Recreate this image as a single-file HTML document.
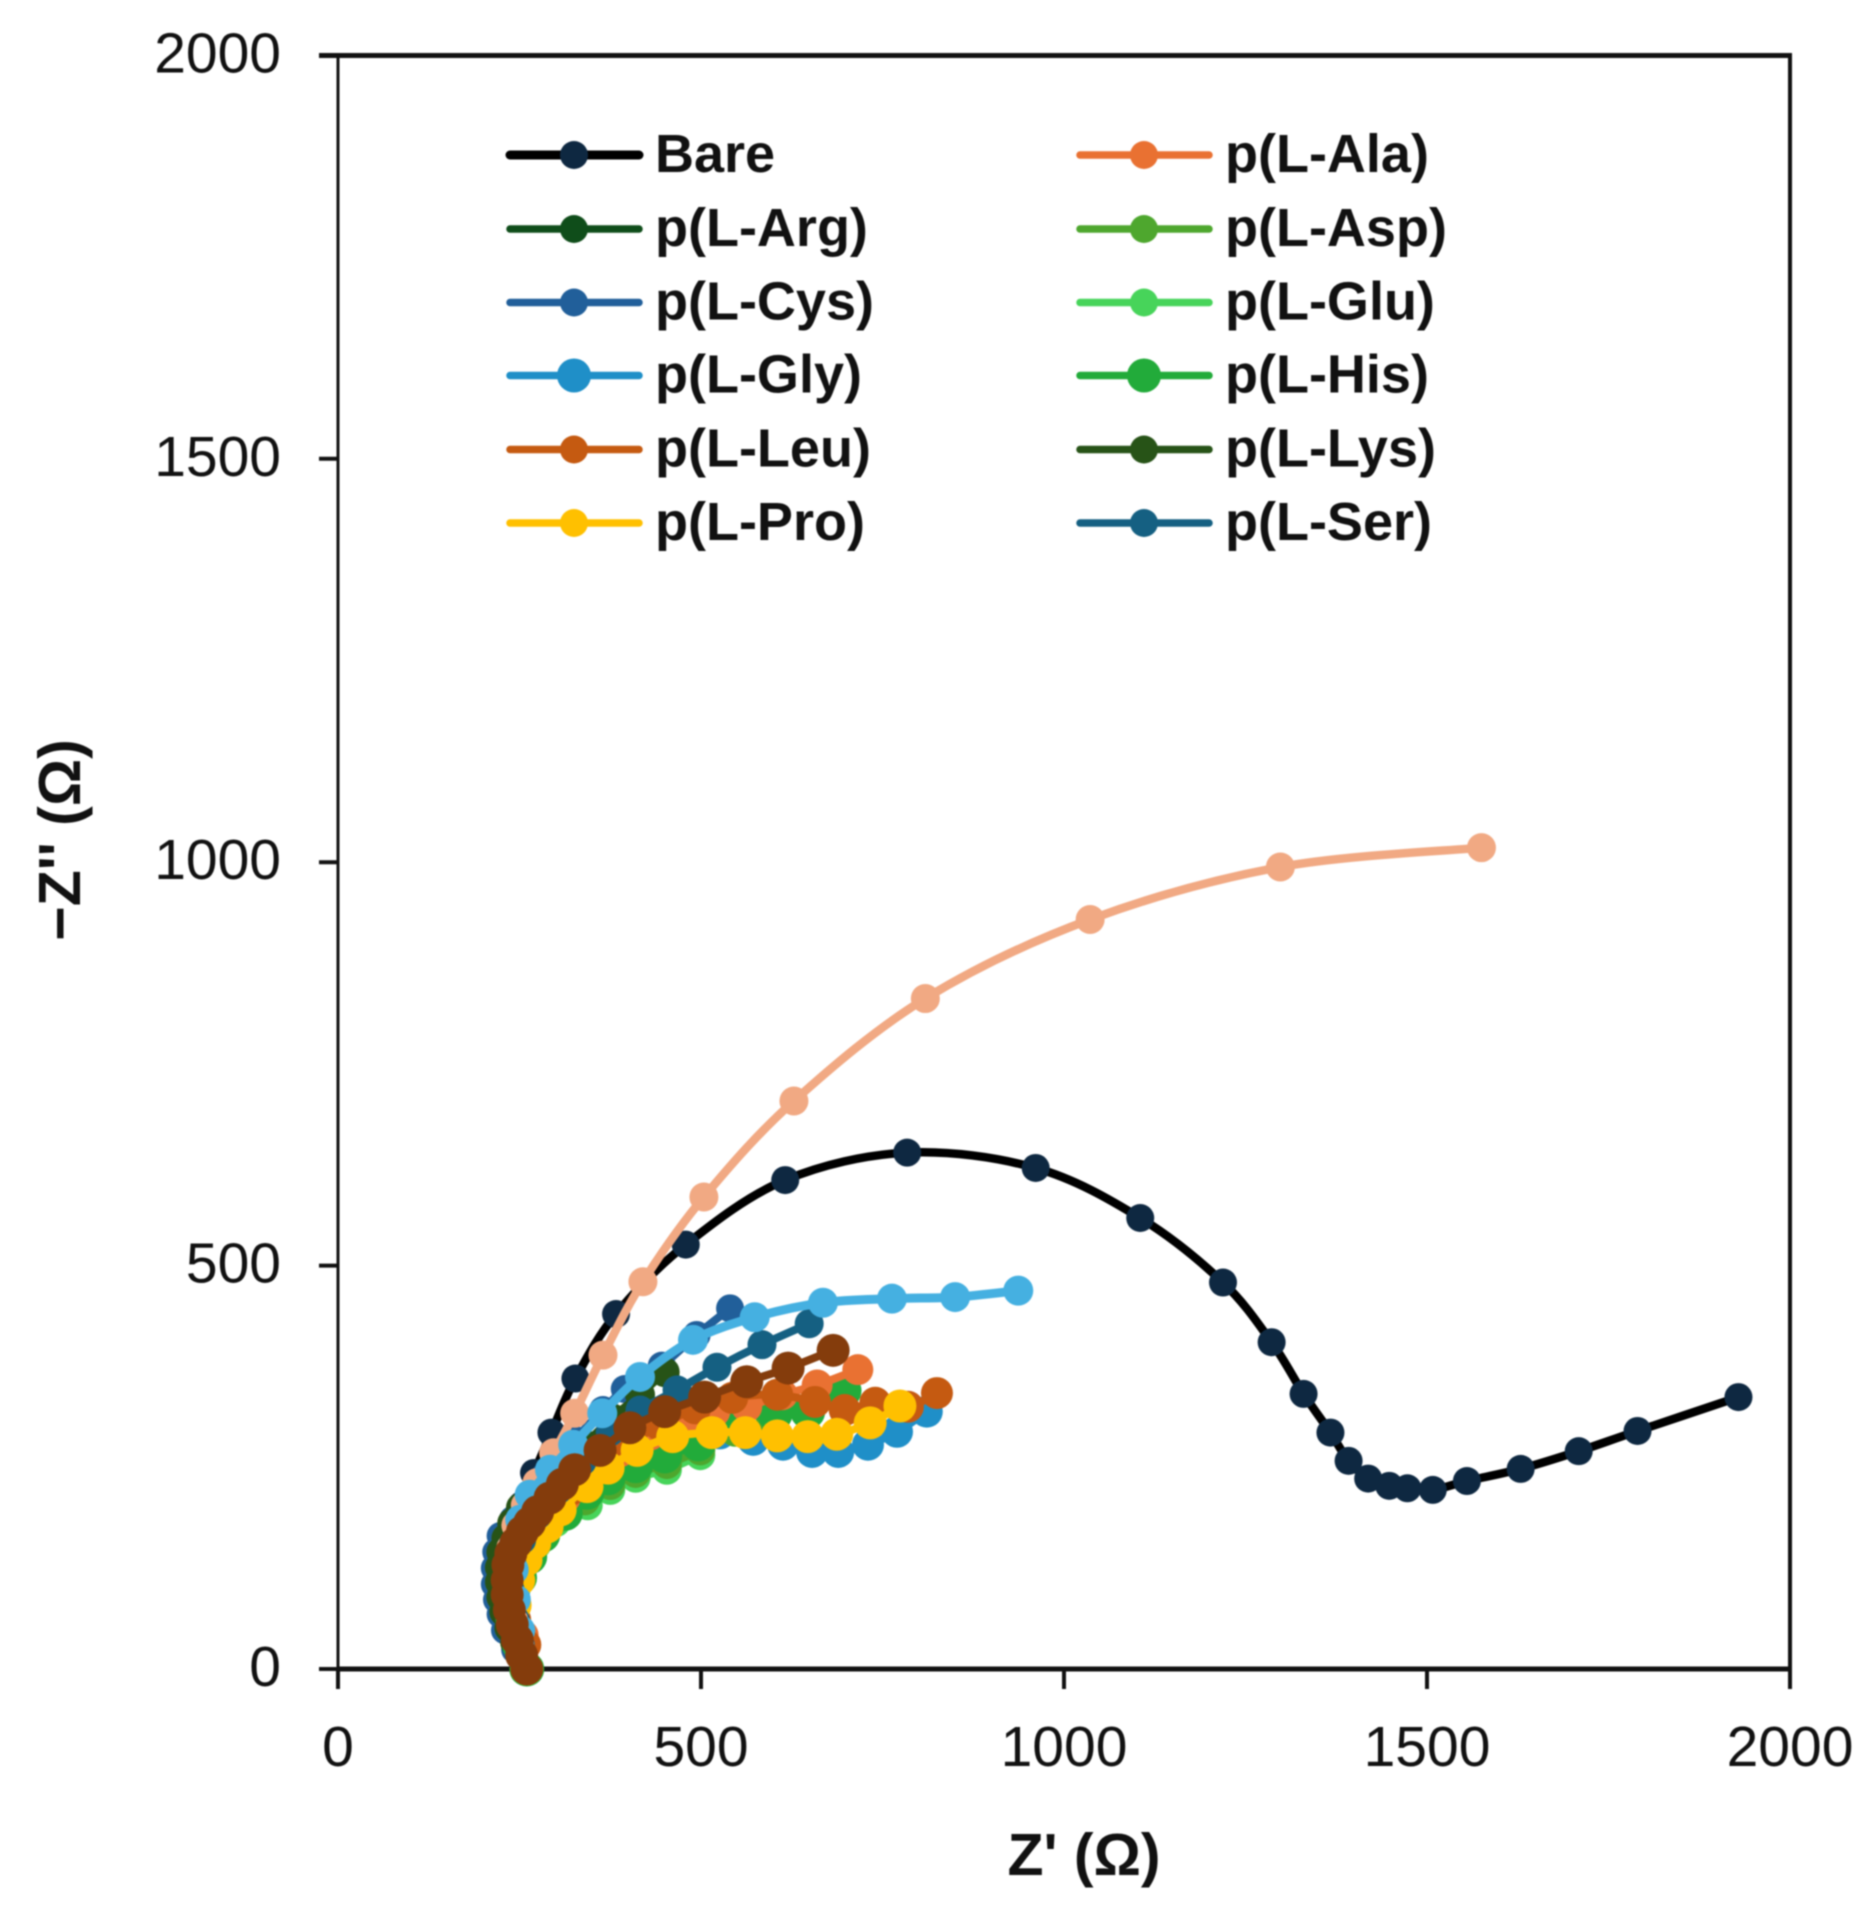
<!DOCTYPE html>
<html lang="en">
<head>
<meta charset="utf-8">
<title>Nyquist plot</title>
<style>
html,body{margin:0;padding:0;background:#fff;width:1872px;height:1912px;overflow:hidden}
svg{display:block;filter:blur(.7px)}
text{font-family:"Liberation Sans",sans-serif;fill:#111}
.tick{font-size:57px}
.leg{font-size:54px;font-weight:bold}
.title{font-size:59px;font-weight:bold}
</style>
</head>
<body>
<svg id="chart" width="1872" height="1912" viewBox="0 0 1872 1912" xmlns="http://www.w3.org/2000/svg">
  <g id="axes">
    <line x1="319" x2="1792" y1="55.5" y2="55.5" stroke="#111" stroke-width="5"/>
    <line x1="338" x2="338" y1="55" y2="1669" stroke="#111" stroke-width="3"/>
    <line x1="338" x2="1792" y1="1669" y2="1669" stroke="#111" stroke-width="5"/>
    <line x1="1790" x2="1790" y1="55" y2="1669" stroke="#111" stroke-width="4"/>
  </g>
  <g id="marks"></g>
  <g id="legend"></g>
  <text class="title" x="1084" y="1875" text-anchor="middle">Z' (Ω)</text>
  <text class="title" transform="translate(80,840) rotate(-90)" text-anchor="middle">−Z'' (Ω)</text>
</svg>
<script>
const xTickLabels = [0, 500, 1000, 1500, 2000];
const yTickLabels = [0, 500, 1000, 1500, 2000];

const bareZre = [260,248,236,230,230,240,253,270,294,327,383,479,616,784,961,1105,1219,1286,1330,1367,1392,1419,1448,1473,1508,1555,1629,1709,1790,1929];
const bareZim = [0,30,61,98,135,172,203,243,293,360,440,526,606,640,621,559,479,405,341,293,258,236,227,224,222,233,248,270,295,337];
const cysZre = [260,244,230,224,219,216,216,218,224,241,255,270,284,300,326,365,395,446,494,540];
const cysZim = [0,24,48,68,86,105,125,145,165,185,203,222,238,253,284,321,347,376,414,447];
const argZre = [260,244,233,227,233,251,278,313,347,388,432];
const argZim = [0,36,73,110,147,178,203,228,253,278,296];
const lysZre = [260,252,244,236,229,225,223,223,225,232,240,252,264,277,290,306,340,377,416,450];
const lysZim = [0,17,33,51,71,89,108,126,145,162,181,200,212,222,235,247,278,311,340,368];
const glyZre = [260,248,241,243,250,269,297,340,372,405,444,485,526,572,613,653,689,730,770,811];
const glyZim = [0,36,67,98,129,160,187,213,240,265,284,290,292,284,278,269,269,278,294,319];
const gluZre = [260,248,243,244,254,273,300,344,375,410,453,499];
const gluZim = [0,30,67,98,125,154,182,203,222,237,247,265];
const aspZre = [260,248,240,244,256,272,298,340,375,410,453,499,547,595];
const aspZim = [0,36,73,104,133,160,185,209,228,243,254,271,294,302];
const hisZre = [260,250,241,240,250,264,282,313,343,372,410,450,496,545,602,647,697];
const hisZim = [0,30,61,86,113,139,166,193,219,237,252,264,279,309,316,319,345];
const alaZre = [260,255,240,243,255,275,313,347,388,430,478,519,563,612,660,716];
const alaZim = [0,42,86,123,154,185,212,240,269,290,306,319,325,340,352,371];
const leuZre = [260,258,244,238,243,255,278,320,354,395,444,492,543,605,657,698,740,785,825];
const leuZim = [0,30,61,98,129,160,191,222,253,278,302,323,336,340,331,321,330,325,342];
const proZre = [260,248,244,249,259,271,288,306,343,372,412,461,515,561,605,647,687,733,774];
const proZim = [0,48,79,110,135,156,176,197,226,249,271,288,293,293,289,288,291,305,326];
const serZre = [260,251,244,237,240,253,275,303,336,375,416,467,522,584,649];
const serZim = [0,30,61,98,129,160,191,222,257,294,321,346,374,402,428];
const peachZre = [260,250,242,238,236,238,245,258,274,297,326,365,420,504,628,809,1036,1298,1575];
const peachZim = [0,30,60,90,120,150,178,203,231,268,317,389,480,585,704,831,929,994,1018];
const skyZre = [260,251,245,242,242,251,264,292,324,364,416,489,574,668,763,850,937];
const skyZim = [0,48,86,123,154,185,216,247,278,317,362,408,436,454,459,461,469];
const umberZre = [260,253,247,240,236,233,233,234,238,245,254,264,275,292,309,326,361,402,450,505,563,620,682];
const umberZim = [0,17,36,55,73,92,110,129,143,156,170,181,195,212,229,247,271,299,319,337,356,373,395];

const xScale = v => 338 + v * 0.726;
const yScale = v => 1669 - v * 0.8068;

const SVGNS = 'http://www.w3.org/2000/svg';
function make(tag, attrs, parent) {
  const el = document.createElementNS(SVGNS, tag);
  for (const k in attrs) el.setAttribute(k, attrs[k]);
  parent.appendChild(el);
  return el;
}
function smoothPath(xs, ys) {
  const p = xs.map((x, i) => [xScale(x), yScale(ys[i])]);
  let d = 'M' + p[0][0].toFixed(1) + ' ' + p[0][1].toFixed(1);
  for (let i = 0; i < p.length - 1; i++) {
    const a = p[Math.max(i - 1, 0)], b = p[i], c = p[i + 1], e = p[Math.min(i + 2, p.length - 1)];
    const c1x = b[0] + (c[0] - a[0]) / 6, c1y = b[1] + (c[1] - a[1]) / 6;
    const c2x = c[0] - (e[0] - b[0]) / 6, c2y = c[1] - (e[1] - b[1]) / 6;
    d += ' C' + [c1x, c1y, c2x, c2y, c[0], c[1]].map(n => n.toFixed(1)).join(' ');
  }
  return d;
}

const axes = document.getElementById('axes');
xTickLabels.forEach(v => {
  const t = make('line', {x1: xScale(v), x2: xScale(v), y1: 1669, y2: 1689, stroke: '#111', 'stroke-width': 4}, axes);
  
  
  const l = make('text', {class: 'tick', x: xScale(v), y: 1766, 'text-anchor': 'middle'}, axes);
  
  
  l.textContent = v;
});
yTickLabels.forEach(v => {
  const t = make('line', {x1: 319, x2: 338, y1: yScale(v), y2: yScale(v), stroke: '#111', 'stroke-width': 4}, axes);
  
  
  const l = make('text', {class: 'tick', x: 281, y: yScale(v) + 17, 'text-anchor': 'end'}, axes);
  
  
  l.textContent = v;
});

function drawSeries(name, xs, ys, line, marker, w, r) {
  const marks = document.getElementById('marks');
  const g = make('g', {}, marks);
  
  
  const path = make('path', {d: smoothPath(xs, ys), fill: 'none', stroke: line, 'stroke-width': w, 'stroke-linejoin': 'round', 'stroke-linecap': 'round'}, g);
  
  
  xs.forEach((x, i) => {
    const c = make('circle', {cx: xScale(x), cy: yScale(ys[i]), r: r, fill: marker}, g);
    
    
  });
}
drawSeries('bare', bareZre, bareZim, '#000000', '#0E2841', 8.5, 14);
drawSeries('p-l-cys', cysZre, cysZim, '#215F9A', '#215F9A', 8, 14);
drawSeries('p-l-arg', argZre, argZim, '#0F4D1A', '#0F4D1A', 8, 14);
drawSeries('p-l-lys', lysZre, lysZim, '#275317', '#275317', 8, 15);
drawSeries('p-l-gly', glyZre, glyZim, '#1F8FC8', '#1F8FC8', 8, 16);
drawSeries('p-l-glu', gluZre, gluZim, '#47D45A', '#47D45A', 8, 15);
drawSeries('p-l-asp', aspZre, aspZim, '#4EA72E', '#4EA72E', 8, 15);
drawSeries('p-l-his', hisZre, hisZim, '#22AB3A', '#22AB3A', 8, 17.5);
drawSeries('p-l-ala', alaZre, alaZim, '#E97132', '#E97132', 8, 15.5);
drawSeries('p-l-leu', leuZre, leuZim, '#C55A11', '#C55A11', 8, 16);
drawSeries('p-l-pro', proZre, proZim, '#FFC000', '#FFC000', 8, 16.5);
drawSeries('p-l-ser', serZre, serZim, '#156082', '#156082', 8, 14.5);
drawSeries('peach-trace', peachZre, peachZim, '#F1A983', '#F1A983', 8.5, 14.5);
drawSeries('sky-trace', skyZre, skyZim, '#45B0E1', '#45B0E1', 9, 15);
drawSeries('umber-trace', umberZre, umberZim, '#843C0C', '#843C0C', 8, 16.5);

const legendLabels = ['Bare','p(L-Ala)','p(L-Arg)','p(L-Asp)','p(L-Cys)','p(L-Glu)','p(L-Gly)','p(L-His)','p(L-Leu)','p(L-Lys)','p(L-Pro)','p(L-Ser)'];
const legendLines = ['#000000','#E97132','#0F4D1A','#4EA72E','#215F9A','#47D45A','#1F8FC8','#22AB3A','#C55A11','#275317','#FFC000','#156082'];
const legendDots = ['#0E2841','#E97132','#0F4D1A','#4EA72E','#215F9A','#47D45A','#1F8FC8','#22AB3A','#C55A11','#275317','#FFC000','#156082'];
const legendRadii = [14,14,14,14,14,14,17,17,14,14,14,14];
const legend = document.getElementById('legend');
const legendRows = [155, 229, 302.5, 375.5, 449.5, 523];
legendLabels.forEach((name, i) => {
  const y = legendRows[Math.floor(i / 2)];
  const x0 = i % 2 ? 1080 : 510;
  const g = make('g', {}, legend);
  
  
  make('line', {x1: x0, x2: x0 + 129, y1: y, y2: y, stroke: legendLines[i], 'stroke-width': i === 0 ? 9 : 7.5, 'stroke-linecap': 'round'}, g);
  make('circle', {cx: x0 + 64, cy: y, r: legendRadii[i], fill: legendDots[i]}, g);
  const t = make('text', {class: 'leg', x: x0 + 145, y: y + 17}, g);
  t.textContent = name;
});
</script>
</body>
</html>
